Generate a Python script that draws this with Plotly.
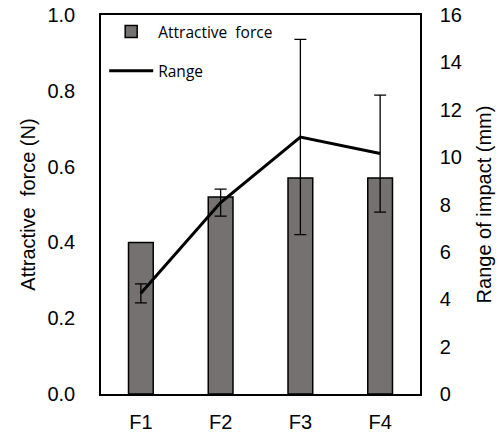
import plotly.graph_objects as go

categories = ["F1", "F2", "F3", "F4"]
force = [0.40, 0.52, 0.57, 0.57]
range_mm = [4.25, 8.08, 10.85, 10.15]
range_err = [0.4, 0.57, 4.12, 2.47]

fig = go.Figure()
fig.add_trace(go.Bar(
    x=categories, y=force, name="Attractive  force", legendgroup="a",
    marker=dict(color="#757171", line=dict(color="black", width=1.5)),
    width=0.31, yaxis="y",
))
fig.add_trace(go.Scatter(
    x=categories, y=range_mm, name="Range", mode="lines", legendgroup="b",
    line=dict(color="black", width=3),
    error_y=dict(type="data", array=range_err, visible=True, color="black", thickness=1.3, width=6),
    yaxis="y2",
))

axis_font = dict(family="Liberation Sans, Arial", size=20, color="black")
fig.update_layout(
    width=504, height=438,
    margin=dict(l=101, r=84, t=15, b=44, autoexpand=False),
    plot_bgcolor="white", paper_bgcolor="white",
    showlegend=True,
    legend=dict(x=0.01, y=1.0, xanchor="left", yanchor="top", bgcolor="rgba(0,0,0,0)",
                font=dict(family="Open Sans, Lato", size=15.5, color="black"),
                itemwidth=44, tracegroupgap=16),
    xaxis=dict(range=[-0.5, 3.5], showline=True, linecolor="black", linewidth=1.5,
               mirror=True, ticks="outside", ticklen=9, tickcolor="rgba(0,0,0,0)",
               tickfont=axis_font, showgrid=False, automargin=False),
    yaxis=dict(range=[0, 1.0], tick0=0, dtick=0.2, tickformat=".1f",
               showline=True, linecolor="black", linewidth=1.5, mirror=True,
               ticks="outside", ticklen=20, tickcolor="rgba(0,0,0,0)",
               tickfont=axis_font, showgrid=False, zeroline=False, automargin=False,
               title=dict(text="Attractive  force (N)", font=axis_font, standoff=6)),
    yaxis2=dict(range=[0, 16], tick0=0, dtick=2, overlaying="y", side="right",
                showline=True, linecolor="black", linewidth=1.5,
                ticks="outside", ticklen=14, tickcolor="rgba(0,0,0,0)",
                tickfont=axis_font, showgrid=False, zeroline=False, automargin=False,
                title=dict(text="Range of impact (mm)", font=axis_font, standoff=16)),
)

fig.write_html("out.html")
